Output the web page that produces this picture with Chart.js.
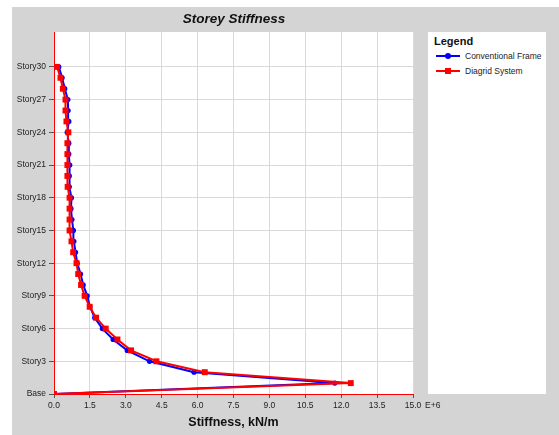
<!DOCTYPE html>
<html>
<head>
<meta charset="utf-8">
<script src="https://cdn.jsdelivr.net/npm/chart.js@4/dist/chart.umd.min.js"></script>
<style>
  html, body { margin: 0; padding: 0; background: #fff; }
  body { width: 559px; height: 435px; position: relative; overflow: hidden;
         font-family: "Liberation Sans", Arial, sans-serif; }
  #frame { position: absolute; left: 12px; top: 7px; width: 547px; height: 428px; background: #d4d4d4; }
  #chart { position: absolute; left: 0; top: 0; }
  #title { position: absolute; left: 122px; width: 200px; top: 4px; text-align: center;
           font-size: 13.5px; font-weight: bold; font-style: italic; color: #111; }
  #legend { position: absolute; left: 416px; top: 25px; width: 118px; height: 362px; background: #fff; }
  #legend .head { position: absolute; left: 6px; top: 3px; font-size: 11px; font-weight: bold; color: #111; }
  #legend .item { position: absolute; left: 8px; height: 12px; font-size: 8.5px; color: #222; }
  #legend .sym { position: absolute; left: 0; top: 5px; width: 24px; height: 2px; }
  #legend .dot { position: absolute; left: 9px; top: -2px; width: 6px; height: 6px; }
  #legend .txt { position: absolute; left: 29px; top: 0; white-space: nowrap; line-height: 12px; }
</style>
</head>
<body>
<div id="frame">
  <canvas id="chart" width="547" height="428"></canvas>
  <div id="title">Storey Stiffness</div>
  <div id="legend">
    <div class="head">Legend</div>
    <div class="item" style="top:18px">
      <div class="sym" style="background:#0000ff"><div class="dot" style="background:#0000ff;border-radius:50%"></div></div>
      <div class="txt">Conventional Frame</div>
    </div>
    <div class="item" style="top:33px">
      <div class="sym" style="background:#ff0000"><div class="dot" style="background:#ff0000"></div></div>
      <div class="txt">Diagrid System</div>
    </div>
  </div>
</div>
<script>
"use strict";

const STOREYS = [
  "Base", "Story1", "Story2", "Story3", "Story4", "Story5", "Story6", "Story7",
  "Story8", "Story9", "Story10", "Story11", "Story12", "Story13", "Story14",
  "Story15", "Story16", "Story17", "Story18", "Story19", "Story20", "Story21",
  "Story22", "Story23", "Story24", "Story25", "Story26", "Story27", "Story28",
  "Story29", "Story30",
];

// stiffness in units of 1E+6 kN/m, Base .. Story30
const CONVENTIONAL = [
  0, 11.73, 5.85, 3.99, 3.06, 2.47, 2.02, 1.70, 1.50, 1.39, 1.22, 1.11, 0.97,
  0.90, 0.83, 0.81, 0.75, 0.71, 0.73, 0.64, 0.64, 0.66, 0.62, 0.62, 0.55,
  0.62, 0.59, 0.58, 0.45, 0.34, 0.20,
];
const DIAGRID = [
  0, 12.40, 6.30, 4.28, 3.22, 2.65, 2.16, 1.76, 1.49, 1.28, 1.13, 1.01, 0.94,
  0.80, 0.73, 0.65, 0.65, 0.65, 0.65, 0.57, 0.56, 0.56, 0.56, 0.56, 0.60,
  0.52, 0.48, 0.48, 0.37, 0.27, 0.13,
];

const X_TICKS = [0, 1.5, 3, 4.5, 6, 7.5, 9, 10.5, 12, 13.5, 15];
const Y_TICKS = [0, 3, 6, 9, 12, 15, 18, 21, 24, 27, 30];

const toPoints = (vals) => vals.map((v, i) => ({ x: v, y: i }));

Chart.defaults.font.family = "'Liberation Sans', Arial, sans-serif";
Chart.defaults.font.size = 8.5;
Chart.defaults.color = "#222";

// white plot area on the grey frame
const plotBackground = {
  id: "plotBackground",
  beforeDraw(chart) {
    const { ctx, chartArea: a } = chart;
    ctx.save();
    ctx.fillStyle = "#ffffff";
    ctx.fillRect(a.left, a.top, a.right - a.left, a.bottom - a.top);
    ctx.restore();
  },
};

// the "E+6" multiplier that sits after the last x tick
const exponentLabel = {
  id: "exponentLabel",
  afterDraw(chart) {
    const x = chart.scales.x;
    const ctx = chart.ctx;
    ctx.save();
    ctx.font = "8.5px 'Liberation Sans', Arial, sans-serif";
    ctx.fillStyle = "#222";
    ctx.textAlign = "left";
    ctx.textBaseline = "middle";
    ctx.fillText("E+6", x.getPixelForValue(15) + 12, x.top + 12);
    ctx.restore();
  },
};

new Chart(document.getElementById("chart"), {
  type: "line",
  data: {
    datasets: [
      {
        label: "Diagrid System",
        data: toPoints(DIAGRID),
        borderColor: "#ff0000",
        backgroundColor: "#ff0000",
        borderWidth: 2,
        pointStyle: "rect",
        pointRadius: 4.2,
        pointBorderWidth: 0,
        order: 0,
      },
      {
        label: "Conventional Frame",
        data: toPoints(CONVENTIONAL),
        borderColor: "#0000ff",
        backgroundColor: "#0000ff",
        borderWidth: 2,
        pointStyle: "circle",
        pointRadius: 2.6,
        pointBorderWidth: 0,
        order: 1,
      },
    ],
  },
  options: {
    responsive: false,
    animation: false,
    layout: { padding: { left: 0, top: 25, right: 146, bottom: 0 } },
    plugins: { legend: { display: false }, tooltip: { enabled: false } },
    scales: {
      x: {
        type: "linear",
        min: 0,
        max: 15,
        afterFit: (s) => { s.height = 41; },
        afterBuildTicks: (s) => { s.ticks = X_TICKS.map((v) => ({ value: v })); },
        ticks: { padding: 3, maxRotation: 0, callback: (v) => v.toFixed(1) },
        grid: { color: "#d9d9d9", tickLength: 4, tickColor: "#555" },
        border: { color: "#ff0000", width: 1 },
        title: {
          display: true,
          text: "Stiffness, kN/m",
          font: { size: 12.5, weight: "bold" },
          color: "#111",
          padding: { top: 0, bottom: 5 },
        },
      },
      y: {
        type: "linear",
        min: 0,
        max: 33.2,
        afterFit: (s) => { s.width = 42; },
        afterBuildTicks: (s) => { s.ticks = Y_TICKS.map((v) => ({ value: v })); },
        ticks: { padding: 3, callback: (v) => STOREYS[v] },
        grid: { color: "#d9d9d9", tickLength: 5, tickColor: "#555" },
        border: { color: "#ff0000", width: 1 },
      },
    },
  },
  plugins: [plotBackground, exponentLabel],
});
</script>
</body>
</html>
